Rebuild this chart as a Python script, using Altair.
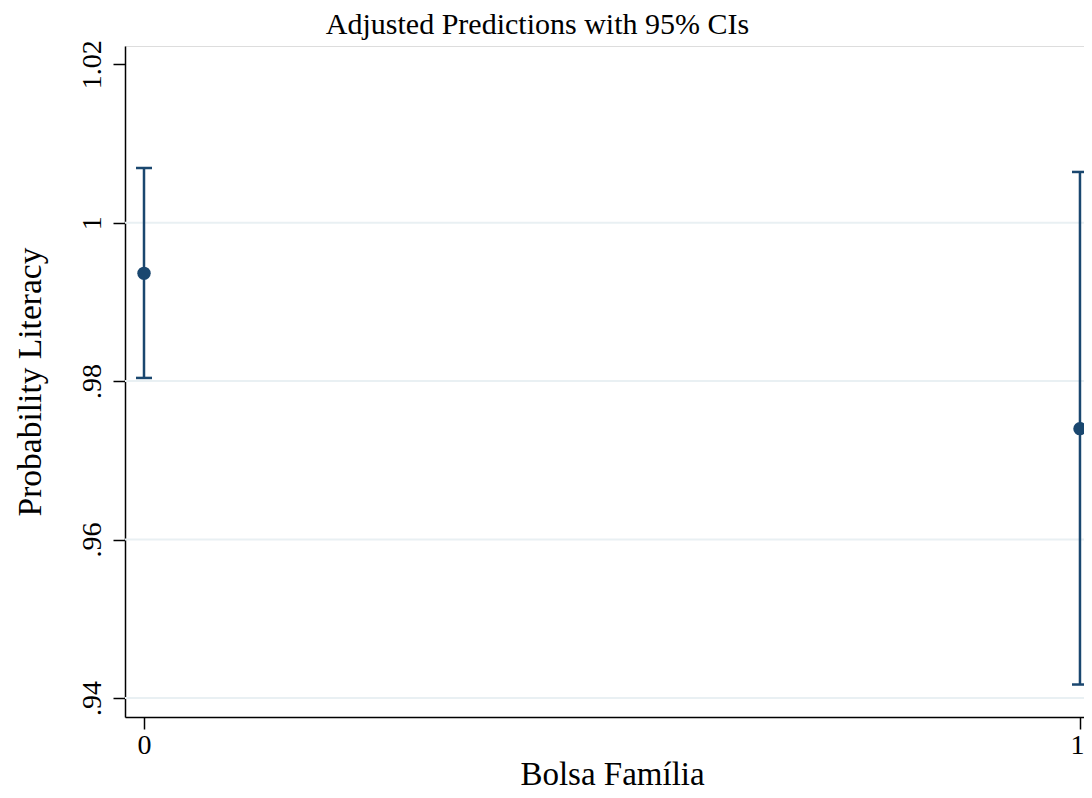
import altair as alt
import pandas as pd

# Data
groups = [0, 1]
predictions = [0.9936, 0.9740]
ci_low = [0.9804, 0.9417]
ci_high = [1.0069, 1.0064]
grid_values = [0.94, 0.96, 0.98, 1.00]
y_ticks = [0.94, 0.96, 0.98, 1.00, 1.02]
x_ticks = [0, 1]

df = pd.DataFrame({"bf": groups, "pred": predictions, "lo": ci_low, "hi": ci_high})
grid_df = pd.DataFrame({"g": grid_values})

FONT = "Liberation Serif"
NAVY = "#1A476F"
W, H = 959, 671

x_scale = alt.Scale(domain=[-0.0203, 1.0043], nice=False, zero=False)
y_scale = alt.Scale(domain=[0.9376, 1.0223], nice=False, zero=False)

x_axis = alt.Axis(
    values=x_ticks, format="d", title="Bolsa Família", grid=False,
    domainColor="black", domainWidth=1.5, tickColor="black", tickWidth=1.5, tickSize=12,
    labelFont=FONT, labelFontSize=28, labelColor="black", labelPadding=2,
    labelOffset={"condition": {"test": "datum.value == 1", "value": -3}, "value": 0},
    titleFont=FONT, titleFontSize=33, titleFontWeight="normal", titleColor="black",
    titleX=487, titleY=67, titleBaseline="alphabetic", titleAlign="center",
)
y_axis = alt.Axis(
    values=y_ticks, title="Probability Literacy", grid=False,
    labelExpr="datum.value < 1 ? substring(format(datum.value, '.2f'), 1) : format(datum.value, '~g')",
    domainColor="black", domainWidth=1.5, tickColor="black", tickWidth=1.5, tickSize=12,
    labelFont=FONT, labelFontSize=28, labelColor="black", labelAngle=270,
    labelAlign="center", labelBaseline="alphabetic", labelPadding=13,
    titleFont=FONT, titleFontSize=33.5, titleFontWeight="normal", titleColor="black",
    titleX=-85, titleY=H / 2, titleBaseline="alphabetic", titleAlign="center", titleAngle=270,
)

grid = alt.Chart(grid_df).mark_rule(color="#E9F0F3", strokeWidth=2).encode(
    y=alt.Y("g:Q", scale=y_scale, axis=y_axis)
)

bars = alt.Chart(df).mark_rule(color=NAVY, strokeWidth=2.5).encode(
    x=alt.X("bf:Q", scale=x_scale, axis=x_axis),
    y=alt.Y("lo:Q", scale=y_scale, axis=y_axis),
    y2="hi:Q",
)
cap_lo = alt.Chart(df).mark_tick(color=NAVY, orient="horizontal", size=16, thickness=2.5, opacity=1).encode(
    x=alt.X("bf:Q", scale=x_scale, axis=x_axis),
    y=alt.Y("lo:Q", scale=y_scale, axis=y_axis),
)
cap_hi = alt.Chart(df).mark_tick(color=NAVY, orient="horizontal", size=16, thickness=2.5, opacity=1).encode(
    x=alt.X("bf:Q", scale=x_scale, axis=x_axis),
    y=alt.Y("hi:Q", scale=y_scale, axis=y_axis),
)
points = alt.Chart(df).mark_circle(color=NAVY, size=180, opacity=1).encode(
    x=alt.X("bf:Q", scale=x_scale, axis=x_axis),
    y=alt.Y("pred:Q", scale=y_scale, axis=y_axis),
)

chart = alt.layer(grid, bars, cap_lo, cap_hi, points).properties(
    width=W,
    height=H,
    title=alt.TitleParams(
        "Adjusted Predictions with 95% CIs", font=FONT, fontSize=30, fontWeight="normal",
        color="black", anchor="middle", dx=-67, dy=2, offset=2,
    ),
    autosize=alt.AutoSizeParams(type="none"),
    padding={"left": 117, "top": 38, "right": 0, "bottom": 73},
).configure_view(stroke=None).configure(background="white")

chart.save("out.html", embed_options={"renderer": "svg", "actions": False})
